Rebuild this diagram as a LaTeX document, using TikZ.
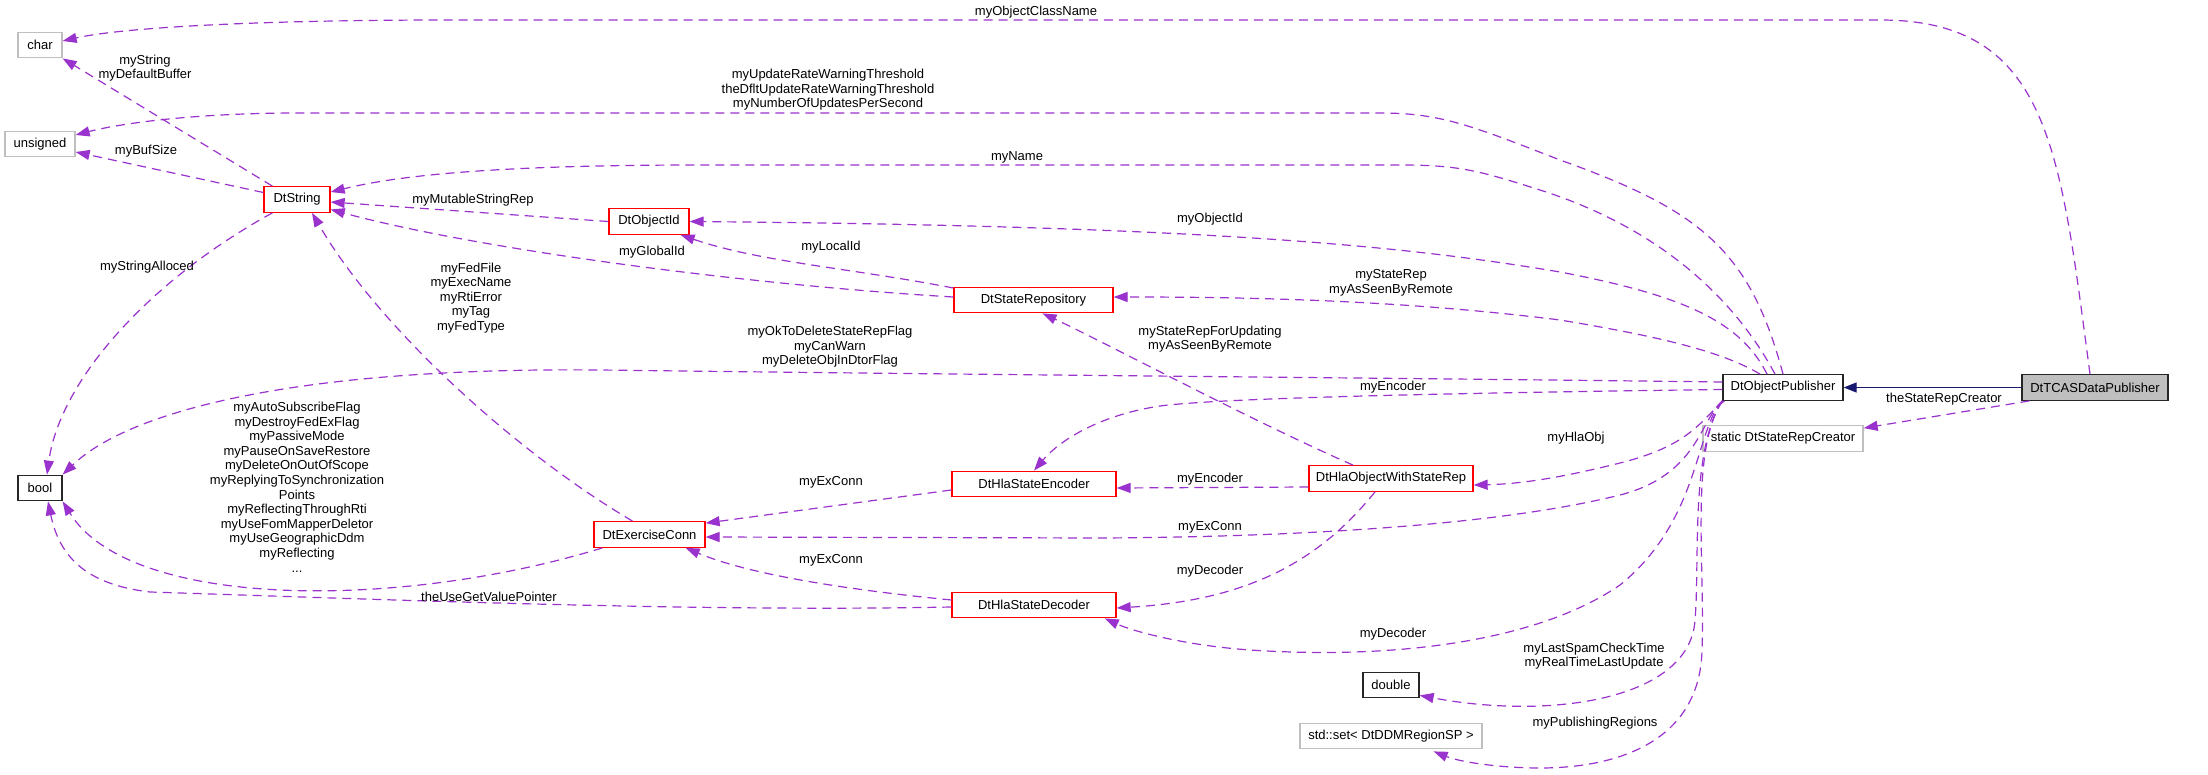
\documentclass[tikz,border=0pt]{standalone}
\usepackage{fontspec}
\setmainfont{Liberation Sans}
\usetikzlibrary{arrows.meta}
\definecolor{usecol}{HTML}{9A32CD}
\definecolor{inhcol}{HTML}{191970}
\definecolor{grayb}{HTML}{BFBFBF}
\begin{document}
\begin{tikzpicture}[x=1pt,y=-1pt,
  box/.style={draw, minimum height=25.5pt, inner sep=0pt, font=\fontsize{13}{14.6}\selectfont, line width=1.3pt},
  redbox/.style={box, draw=red},
  graybox/.style={box, draw=grayb},
  blackbox/.style={box, draw=black!85},
  use/.style={draw=usecol, line width=1.2pt, dash pattern=on 9pt off 6pt, -{Triangle[length=14pt,width=10pt]}},
  inh/.style={draw=inhcol, line width=1.3pt, -{Triangle[length=13pt,width=10pt]}},
  lbl/.style={font=\fontsize{13}{14.6}\selectfont, align=center, inner sep=0pt}]
\fill[white] (0,0) rectangle (2208,775);
\useasboundingbox (0,0) rectangle (2208,775);

% nodes
\node[graybox, minimum width=44pt] (char) at (40,45) {char};
\node[graybox, minimum width=70pt] (unsigned) at (40,144) {unsigned};
\node[redbox, minimum width=66pt] (dtstring) at (297,199.5) {DtString};
\node[blackbox, minimum width=44pt] (bool) at (40,488) {bool};
\node[redbox, minimum width=80pt] (objid) at (649,221.5) {DtObjectId};
\node[redbox, minimum width=159pt] (staterep) at (1033.5,300) {DtStateRepository};
\node[redbox, minimum width=164pt] (encoder) at (1034,484) {DtHlaStateEncoder};
\node[redbox, minimum width=111pt] (exconn) at (649.5,534.5) {DtExerciseConn};
\node[redbox, minimum width=164pt] (decoder) at (1034,605) {DtHlaStateDecoder};
\node[redbox, minimum width=164pt] (hlaobj) at (1391,478.5) {DtHlaObjectWithStateRep};
\node[blackbox, minimum width=56pt] (double) at (1391,685) {double};
\node[graybox, minimum width=182pt] (stdset) at (1391,736) {std::set< DtDDMRegionSP >};
\node[blackbox, minimum width=120pt] (pub) at (1783,387.5) {DtObjectPublisher};
\node[blackbox, fill=grayb, minimum width=146pt] (tcas) at (2095,387.5) {DtTCASDataPublisher};
\node[graybox, minimum width=160pt] (creator) at (1783,438.5) {static DtStateRepCreator};

% edges
\draw[use] ([xshift=-5pt]tcas.north) .. controls (2060,150) and (2050,20) .. (1880,20) -- (450,20) .. controls (250,20) and (120,28) .. ([yshift=4pt]char.east);
\draw[use] ([xshift=9pt]dtstring.north west) -- (char.south east);
\draw[use] ([yshift=7pt]dtstring.west) -- ([yshift=-8pt]unsigned.east);
\draw[use] (pub.north) .. controls (1750,250) and (1700,210) .. (1560,160) .. controls (1470,125) and (1440,113) .. (1380,113) -- (300,113) .. controls (180,113) and (110,126) .. ([yshift=9pt]unsigned.east);
\draw[use] ([xshift=-8pt]pub.north) .. controls (1730,290) and (1650,225) .. (1540,190) .. controls (1480,171) and (1460,165) .. (1400,165) -- (700,165) .. controls (500,165) and (400,175) .. ([yshift=7.5pt]dtstring.east);
\draw[use] (objid.west) -- ([yshift=-2.5pt]dtstring.east);
\draw[use] ([yshift=3pt]staterep.west) .. controls (750,285) and (480,250) .. ([yshift=-10pt]dtstring.east);
\draw[use] ([yshift=12pt]staterep.west) .. controls (850,268) and (760,262) .. ([xshift=-9pt]objid.south east);
\draw[use] ([xshift=-16pt]pub.north) .. controls (1740,320) and (1680,295) .. (1560,272) .. controls (1400,245) and (1200,226) .. (objid.east);
\draw[use] ([xshift=-23pt]pub.north) .. controls (1720,350) and (1650,335) .. (1560,320) .. controls (1400,300) and (1250,297) .. ([yshift=3pt]staterep.east);
\draw[use] ([yshift=5.5pt]pub.west) .. controls (1400,378) and (1000,375) .. (600,370) .. controls (300,367) and (130,410) .. (bool.north east);
\draw[use] ([yshift=-2pt]pub.west) .. controls (1450,393) and (1220,398) .. (1160,406) .. controls (1100,415) and (1060,440) .. (encoder.north);
\draw[use] ([xshift=-38pt]hlaobj.north) .. controls (1250,420) and (1100,340) .. ([xshift=9pt]staterep.south);
\draw[use] ([yshift=-8.5pt]hlaobj.west) -- ([yshift=-4pt]encoder.east);
\draw[use] ([xshift=2pt]pub.south west) .. controls (1700,420) and (1692,445) .. (1620,463) .. controls (1560,478) and (1520,484) .. ([yshift=-6.5pt]hlaobj.east);
\draw[use] ([yshift=-6pt]encoder.west) -- ([yshift=-2pt]exconn.north east);
\draw[use] (pub.south west) .. controls (1700,420) and (1698,475) .. (1620,495) .. controls (1500,525) and (1300,537) .. (1100,538) -- ([yshift=-2.5pt]exconn.east);
\draw[use] ([xshift=-17pt]exconn.north) .. controls (520,455) and (380,330) .. ([xshift=15pt]dtstring.south);
\draw[use] ([xshift=9pt]dtstring.south west) .. controls (150,280) and (60,380) .. ([xshift=7pt]bool.north);
\draw[use] ([xshift=9pt]exconn.south west) .. controls (400,610) and (130,610) .. (bool.south east);
\draw[use] ([yshift=-2pt]decoder.west) .. controls (700,612) and (400,600) .. (150,592) .. controls (90,585) and (60,560) .. ([xshift=8pt]bool.south);
\draw[use] ([yshift=5pt]decoder.west) .. controls (850,590) and (750,575) .. ([xshift=-20pt]exconn.south east);
\draw[use] ([xshift=-16pt]hlaobj.south) .. controls (1320,560) and (1250,600) .. ([yshift=-3pt]decoder.east);
\draw[use] (pub.south west) .. controls (1695,430) and (1700,520) .. (1620,585) .. controls (1540,640) and (1400,660) .. (1250,650) .. controls (1180,645) and (1130,630) .. ([xshift=-12pt]decoder.south east);
\draw[use] (pub.south west) .. controls (1690,450) and (1700,560) .. (1695,620) .. controls (1690,700) and (1550,720) .. ([yshift=3pt]double.south east);
\draw[use] (pub.south west) .. controls (1690,450) and (1705,560) .. (1702,650) .. controls (1700,740) and (1620,768) .. (1540,768) .. controls (1500,768) and (1460,762) .. ([xshift=-49pt,yshift=-2pt]stdset.south east);
\draw[use] ([xshift=8pt]tcas.south west) -- ([yshift=-3pt]creator.north east);
\draw[inh] (tcas) -- (pub);

% labels
\node[lbl] (l1) at (1036,12) {myObjectClassName};
\node[lbl] (l2) at (145,68) {myString\\myDefaultBuffer};
\node[lbl] (l3) at (146,151) {myBufSize};
\node[lbl] (l4) at (828,90) {myUpdateRateWarningThreshold\\theDfltUpdateRateWarningThreshold\\myNumberOfUpdatesPerSecond};
\node[lbl] (l5) at (1017,157) {myName};
\node[lbl] (l6) at (473,200) {myMutableStringRep};
\node[lbl] (l7) at (652,252) {myGlobalId};
\node[lbl] (l8) at (831,247) {myLocalId};
\node[lbl] (l9) at (1210,219) {myObjectId};
\node[lbl] (l10) at (1391,283) {myStateRep\\myAsSeenByRemote};
\node[lbl] (l11) at (830,347) {myOkToDeleteStateRepFlag\\myCanWarn\\myDeleteObjInDtorFlag};
\node[lbl] (l12) at (1393,387) {myEncoder};
\node[lbl] (l13) at (1210,339) {myStateRepForUpdating\\myAsSeenByRemote};
\node[lbl] (l14) at (1210,479) {myEncoder};
\node[lbl] (l15) at (1576,438) {myHlaObj};
\node[lbl] (l16) at (831,482) {myExConn};
\node[lbl] (l17) at (1210,527) {myExConn};
\node[lbl] (l18) at (471,298) {myFedFile\\myExecName\\myRtiError\\myTag\\myFedType};
\node[lbl] (l19) at (147,267) {myStringAlloced};
\node[lbl] (l20) at (297,487) {myAutoSubscribeFlag\\myDestroyFedExFlag\\myPassiveMode\\myPauseOnSaveRestore\\myDeleteOnOutOfScope\\myReplyingToSynchronization\\Points\\myReflectingThroughRti\\myUseFomMapperDeletor\\myUseGeographicDdm\\myReflecting\\...};
\node[lbl] (l21) at (489,597) {theUseGetValuePointer};
\node[lbl] (l22) at (831,560) {myExConn};
\node[lbl] (l23) at (1210,571) {myDecoder};
\node[lbl] (l24) at (1393,634) {myDecoder};
\node[lbl] (l25) at (1594,656) {myLastSpamCheckTime\\myRealTimeLastUpdate};
\node[lbl] (l26) at (1595,723) {myPublishingRegions};
\node[lbl] (l27) at (1944,399) {theStateRepCreator};
\end{tikzpicture}
\end{document}
